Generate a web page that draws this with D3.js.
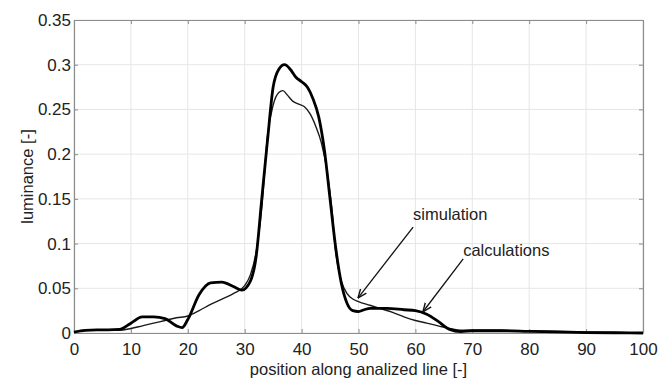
<!DOCTYPE html>
<meta charset="utf-8">
<script src="https://d3js.org/d3.v7.min.js"></script>
<style>
  body { margin: 0; background: #fff; }
  text { font-family: "Liberation Sans", Arial, sans-serif; fill: #222; }
</style>
<body>
<div id="chart"></div>
<script>
// position along line and luminance values
var calcX = [0, 2, 4, 6, 8, 10, 12, 14, 16, 18, 19, 20, 22, 24, 26, 28, 29.5, 31, 32, 33, 34, 35, 36, 37, 38, 39, 40, 41, 42, 43, 44, 45, 46, 47, 48, 49, 50, 51, 52, 55, 58, 60, 62, 64, 66, 68, 70, 75, 80, 85, 90, 95, 100];
var calcY = [0.001, 0.003, 0.0035, 0.0035, 0.004, 0.011, 0.018, 0.018, 0.016, 0.008, 0.006, 0.015, 0.043, 0.056, 0.057, 0.052, 0.048, 0.058, 0.085, 0.15, 0.215, 0.275, 0.295, 0.3, 0.295, 0.286, 0.281, 0.275, 0.262, 0.242, 0.205, 0.15, 0.095, 0.055, 0.033, 0.025, 0.024, 0.026, 0.0275, 0.0275, 0.026, 0.025, 0.021, 0.013, 0.004, 0.0015, 0.0025, 0.0025, 0.0018, 0.0012, 0.0005, 0.0003, 0];

var simX = [0, 2, 5, 8, 10, 12, 14, 16, 18, 20, 22, 24, 26, 28, 30, 31, 32, 33, 34, 35, 36, 36.7, 37.5, 38.5, 39.5, 40.5, 41.5, 42.5, 43.5, 44.5, 45.3, 46, 47, 48, 49, 50, 52, 54, 56, 58, 60, 62, 64, 66, 68, 70, 75, 80, 85, 90, 95, 100];
var simY = [0.001, 0.003, 0.0035, 0.003, 0.005, 0.008, 0.011, 0.014, 0.017, 0.019, 0.025, 0.032, 0.038, 0.044, 0.053, 0.065, 0.09, 0.14, 0.22, 0.255, 0.269, 0.271, 0.266, 0.259, 0.256, 0.253, 0.245, 0.231, 0.212, 0.18, 0.14, 0.09, 0.058, 0.044, 0.038, 0.035, 0.031, 0.027, 0.023, 0.018, 0.014, 0.011, 0.008, 0.005, 0.003, 0.003, 0.003, 0.0025, 0.0018, 0.0012, 0.0006, 0];

var xTicks = [0, 10, 20, 30, 40, 50, 60, 70, 80, 90, 100];
var yTicks = [0, 0.05, 0.1, 0.15, 0.2, 0.25, 0.3, 0.35];

// annotation labels: text anchor point, arrow start and arrow tip (data units)
var noteLabels = ["simulation", "calculations"];
var noteText = [[59.6, 0.126], [68.4, 0.086]];
var noteFrom = [[59.6, 0.1185], [68.4, 0.083]];
var noteTo = [[49.9, 0.039], [61.3, 0.0235]];

var margin = {top: 20, right: 26, bottom: 45, left: 74},
    width = 669 - margin.left - margin.right,
    height = 378 - margin.top - margin.bottom;

var svg = d3.select("#chart")
  .append("svg")
    .attr("width", 669)
    .attr("height", 378)
  .append("g")
    .attr("transform", "translate(" + margin.left + "," + margin.top + ")");

var x = d3.scaleLinear().domain([0, 100]).range([0, width]);
var y = d3.scaleLinear().domain([0, 0.35]).range([height, 0]);

// grid
svg.append("g")
  .selectAll("line")
  .data(xTicks)
  .enter()
  .append("line")
    .attr("x1", function(d) { return x(d); })
    .attr("x2", function(d) { return x(d); })
    .attr("y1", 0)
    .attr("y2", height)
    .attr("stroke", "#e6e6e6");
svg.append("g")
  .selectAll("line")
  .data(yTicks)
  .enter()
  .append("line")
    .attr("y1", function(d) { return y(d); })
    .attr("y2", function(d) { return y(d); })
    .attr("x1", 0)
    .attr("x2", width)
    .attr("stroke", "#e6e6e6");

// axes
var fmt = function(d) { return d3.format("")(+d.toFixed(2)); };

svg.append("g")
  .attr("transform", "translate(0," + height + ")")
  .call(d3.axisBottom(x).tickValues(xTicks).tickSizeInner(-4).tickSizeOuter(0).tickPadding(10));
svg.append("g")
  .call(d3.axisLeft(y).tickValues(yTicks).tickFormat(fmt).tickSizeInner(-4).tickSizeOuter(0).tickPadding(3));
svg.append("g")
  .call(d3.axisTop(x).tickValues(xTicks).tickFormat("").tickSizeInner(-4).tickSizeOuter(0));
svg.append("g")
  .attr("transform", "translate(" + width + ",0)")
  .call(d3.axisRight(y).tickValues(yTicks).tickFormat("").tickSizeInner(-4).tickSizeOuter(0));

svg.selectAll(".domain").attr("stroke", "#8c8c8c").attr("stroke-width", 1.2);
svg.selectAll(".tick line").attr("stroke", "#8c8c8c");
svg.selectAll(".tick text")
  .style("font-size", "17px")
  .style("fill", "#222");

// axis titles
svg.append("text")
  .attr("x", width / 2)
  .attr("y", height + 42)
  .style("text-anchor", "middle")
  .style("font-size", "16.5px")
  .text("position along analized line [-]");

svg.append("text")
  .attr("transform", "rotate(-90)")
  .attr("x", -height / 2)
  .attr("y", -41)
  .style("text-anchor", "middle")
  .style("font-size", "16.5px")
  .text("luminance [-]");

// curves
var line = d3.line()
  .x(function(d) { return x(d[0]); })
  .y(function(d) { return y(d[1]); })
  .curve(d3.curveMonotoneX);

svg.append("path")
  .datum(simX.map(function(v, i) { return [v, simY[i]]; }))
  .attr("d", line)
  .attr("fill", "none")
  .attr("stroke", "#1a1a1a")
  .attr("stroke-width", 1.4);

svg.append("path")
  .datum(calcX.map(function(v, i) { return [v, calcY[i]]; }))
  .attr("d", line)
  .attr("fill", "none")
  .attr("stroke", "#000")
  .attr("stroke-width", 2.8);

// annotation arrows
svg.append("defs").append("marker")
  .attr("id", "head")
  .attr("viewBox", "0 0 10 10")
  .attr("refX", 10)
  .attr("refY", 5)
  .attr("markerWidth", 7)
  .attr("markerHeight", 7)
  .attr("orient", "auto")
  .append("path")
    .attr("d", "M0,1 L10,5 L0,9")
    .attr("fill", "none")
    .attr("stroke", "#111")
    .attr("stroke-width", 1.5);

noteLabels.forEach(function(lbl, i) {
  svg.append("line")
    .attr("x1", x(noteFrom[i][0]))
    .attr("y1", y(noteFrom[i][1]))
    .attr("x2", x(noteTo[i][0]))
    .attr("y2", y(noteTo[i][1]))
    .attr("stroke", "#111")
    .attr("stroke-width", 1.3)
    .attr("marker-end", "url(#head)");
  svg.append("text")
    .attr("x", x(noteText[i][0]))
    .attr("y", y(noteText[i][1]))
    .style("font-size", "16.5px")
    .text(lbl);
});
</script>
</body>
